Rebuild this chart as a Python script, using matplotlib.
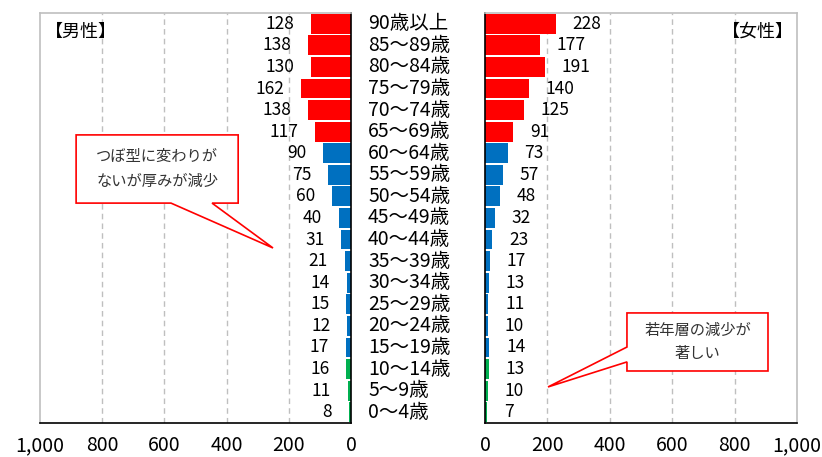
import matplotlib
matplotlib.use('Agg')
import matplotlib.pyplot as plt
from matplotlib.patches import Polygon
from matplotlib.transforms import blended_transform_factory

plt.rcParams['font.family'] = ['Noto Sans CJK JP', 'DejaVu Sans']

# age groups, youngest first (bottom of the pyramid)
ages = ['0～4歳', '5～9歳', '10～14歳', '15～19歳', '20～24歳', '25～29歳',
        '30～34歳', '35～39歳', '40～44歳', '45～49歳', '50～54歳', '55～59歳',
        '60～64歳', '65～69歳', '70～74歳', '75～79歳', '80～84歳', '85～89歳',
        '90歳以上']
male = [8, 11, 16, 17, 12, 15, 14, 21, 31, 40, 60, 75, 90,
        117, 138, 162, 130, 138, 128]
female = [7, 10, 13, 14, 10, 11, 13, 17, 23, 32, 48, 57, 73,
          91, 125, 140, 191, 177, 228]
ticks = [0, 200, 400, 600, 800, 1000]
tick_labels = ['0', '200', '400', '600', '800', '1,000']

RED, BLUE, GREEN = '#FF0000', '#0070C0', '#00B050'


def group_color(i):
    if i < 3:
        return GREEN
    if i < 13:
        return BLUE
    return RED


colors = [group_color(i) for i in range(len(ages))]
ypos = list(range(len(ages)))

fig = plt.figure(figsize=(8.22, 4.57), dpi=100)
ax_m = fig.add_axes([0.0487, 0.0744, 0.3784, 0.8972])
ax_f = fig.add_axes([0.5900, 0.0744, 0.3796, 0.8972])


def style_axis(ax, side):
    ax.set_xlim(0, 1000)
    ax.set_ylim(-0.5, len(ages) - 0.5)
    ax.set_xticks(ticks)
    ax.set_xticklabels(tick_labels, fontsize=14)
    ax.set_yticks([])
    ax.tick_params(axis='x', length=0, pad=9)
    for x in ticks[1:-1]:
        ax.axvline(x, color='#BFBFBF', lw=1.0, ls=(0, (4, 3)), zorder=0)
    for s in ax.spines.values():
        s.set_color('#BFBFBF')
        s.set_linewidth(1.2)
    ax.spines['bottom'].set_color('black')
    ax.spines[side].set_color('black')


# male side: bars grow to the left
ax_m.barh(ypos, male, height=0.92, color=colors, zorder=2)
style_axis(ax_m, 'right')
ax_m.invert_xaxis()
for y, v in zip(ypos, male):
    ax_m.annotate(str(v), (v, y), xytext=(-12, 0), textcoords='offset points',
                  ha='right', va='center', fontsize=12.5)
ax_m.text(0.015, 0.955, '【男性】', transform=ax_m.transAxes,
          ha='left', va='center', fontsize=13)

# female side
ax_f.barh(ypos, female, height=0.92, color=colors, zorder=2)
style_axis(ax_f, 'left')
for y, v in zip(ypos, female):
    ax_f.annotate(str(v), (v, y), xytext=(12, 0), textcoords='offset points',
                  ha='left', va='center', fontsize=12.5)
ax_f.text(0.99, 0.955, '【女性】', transform=ax_f.transAxes,
          ha='right', va='center', fontsize=13)

# age labels in the gap between the two panels
trans = blended_transform_factory(fig.transFigure, ax_m.transData)
for y, a in zip(ypos, ages):
    fig.text(0.4477, y, a, transform=trans, ha='left', va='center', fontsize=14)

# callout on the male side
box_m = [(884, 12.85), (363, 12.85), (363, 9.69), (447, 9.69),
         (251, 7.61), (579, 9.69), (884, 9.69)]
ax_m.add_patch(Polygon(box_m, closed=True, facecolor='white', edgecolor='#FF0000',
                       lw=1.2, zorder=5, clip_on=False))
ax_m.text(623, 11.27, 'つぼ型に変わりが\nないが厚みが減少', ha='center', va='center',
          fontsize=11, color='#333333', linespacing=1.6, zorder=6)

# callout on the female side
box_f = [(455, 4.60), (907, 4.60), (907, 1.91), (455, 1.91),
         (455, 2.33), (202, 1.17), (455, 3.02)]
ax_f.add_patch(Polygon(box_f, closed=True, facecolor='white', edgecolor='#FF0000',
                       lw=1.2, zorder=5, clip_on=False))
ax_f.text(681, 3.25, '若年層の減少が\n著しい', ha='center', va='center',
          fontsize=11, color='#333333', linespacing=1.5, zorder=6)

fig.savefig('out.png', dpi=100)
